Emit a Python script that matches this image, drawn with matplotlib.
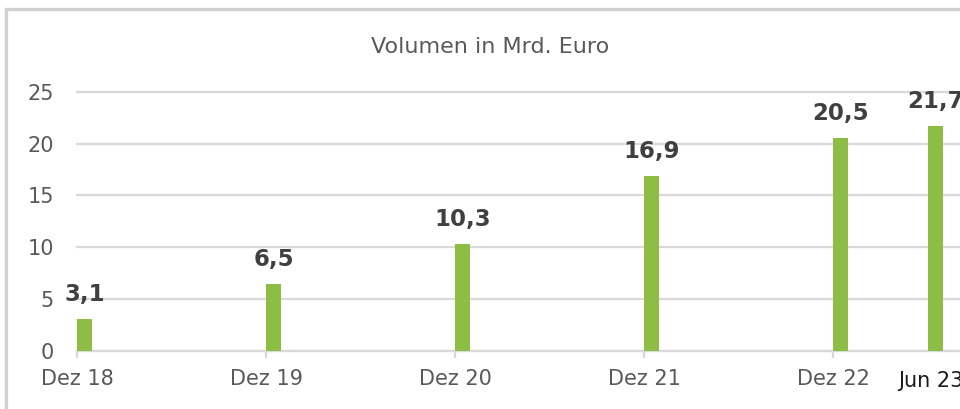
import matplotlib
matplotlib.use("Agg")
import matplotlib.pyplot as plt
from matplotlib.patches import Rectangle

# time axis in years after Dez 18
periods = ["Dez 18", "Dez 19", "Dez 20", "Dez 21", "Dez 22", "Jun 23"]
positions = [0.0, 1.0, 2.0, 3.0, 4.0, 4.5]
volumes = [3.1, 6.5, 10.3, 16.9, 20.5, 21.7]
labels = ["3,1", "6,5", "10,3", "16,9", "20,5", "21,7"]
tick_pos = [0.0, 1.0, 2.0, 3.0, 4.0]
tick_labels = ["Dez 18", "Dez 19", "Dez 20", "Dez 21", "Dez 22"]
y_ticks = [0, 5, 10, 15, 20, 25]

GREEN = "#8dbd45"
GRID = "#d9d9d9"
GRAY_TXT = "#595959"
DARK_TXT = "#404040"

plt.rcParams["font.family"] = ["DejaVu Sans"]

fig = plt.figure(figsize=(9.6, 4.09), dpi=100)
W, H = 960, 409

# axes: x=0 at px 77, y=0 at px 351, y=25 at px 91.7
ax = fig.add_axes([77 / W, (H - 351) / H, 945 / W, (351 - 91.7) / H])
ax.set_xlim(0, 5)
ax.set_ylim(0, 25)

ax.bar(positions, volumes, width=0.082, align="edge", color=GREEN, zorder=3)

for x, v, lab in zip(positions, volumes, labels):
    ax.annotate(lab, (x + 0.041, v), xytext=(0, 13), textcoords="offset points",
                ha="center", va="baseline", fontsize=16.5, fontweight="bold",
                color=DARK_TXT, zorder=4)

ax.set_yticks(y_ticks)
ax.set_yticklabels([str(t) for t in y_ticks])
ax.set_xticks(tick_pos)
ax.set_xticklabels(tick_labels)
ax.grid(axis="y", color=GRID, linewidth=1.6, zorder=0)
ax.set_axisbelow(True)
for gl in ax.get_ygridlines():
    gl.set_clip_on(False)

for side in ["top", "right", "left"]:
    ax.spines[side].set_visible(False)
ax.spines["bottom"].set_color(GRID)
ax.spines["bottom"].set_linewidth(1.6)

ax.tick_params(axis="y", length=0, pad=16.5, labelsize=15, labelcolor=GRAY_TXT)
ax.tick_params(axis="x", length=5, width=1.6, color=GRID, pad=8,
               labelsize=15, labelcolor=GRAY_TXT)

# last period has its own label, no tick
ax.annotate(periods[-1], (positions[-1] + 0.041, 0), xytext=(-3, -14.5),
            textcoords="offset points", ha="center", va="top",
            fontsize=15, color="#1a1a1a", annotation_clip=False)

fig.text(490 / W, 1 - 53 / H, "Volumen in Mrd. Euro", ha="center", va="baseline",
         fontsize=16, color=GRAY_TXT)

# chart frame (only left and top edges visible)
fig.patches.append(Rectangle((6 / W, -0.2), 1.5, 1 - 9 / H + 0.2,
                             transform=fig.transFigure, fill=False,
                             edgecolor="#d0d0d0", linewidth=2.4))

fig.savefig("out.png", dpi=100)
